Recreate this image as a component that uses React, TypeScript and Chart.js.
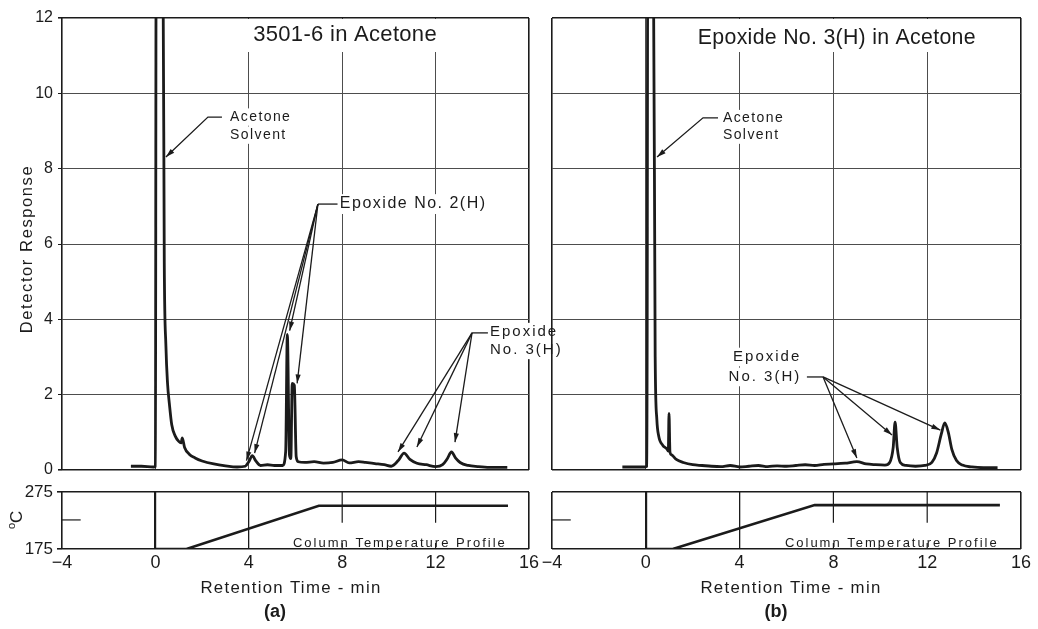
import React, { useEffect, useRef } from 'react';
import { Chart, registerables } from 'chart.js';

Chart.register(...registerables);

const FONT = "'Liberation Sans', Arial, Helvetica, sans-serif";
const INK = '#1b1b1b';
const GRID = '#4d4d4d';

type Pt = [number, number];

// ---------- data ----------
// Panel (a): 3501-6 in Acetone — retention time (min) vs detector response
const timeA = [-1.05, -0.6, -0.08, 0.0, 0.03, 0.33, 0.38, 0.45, 0.52, 0.6, 0.7, 0.85, 1.0, 1.1, 1.15, 1.25, 1.45, 1.7, 2.0, 2.5, 3.0, 3.5, 3.85, 4.0, 4.15, 4.3, 4.5, 4.8, 5.1, 5.45, 5.58, 5.65, 5.74, 5.8, 5.86, 5.95, 6.03, 6.12, 6.4, 6.8, 7.2, 7.6, 8.0, 8.3, 8.7, 9.0, 9.4, 9.8, 10.1, 10.4, 10.65, 10.9, 11.2, 11.6, 12.0, 12.3, 12.5, 12.68, 12.85, 13.05, 13.4, 13.8, 14.3, 15.07];
const respA = [0.1, 0.1, 0.08, 0.1, 12.8, 12.8, 5.5, 3.3, 2.3, 1.75, 1.2, 0.9, 0.76, 0.72, 0.85, 0.6, 0.42, 0.32, 0.24, 0.16, 0.11, 0.08, 0.1, 0.22, 0.38, 0.24, 0.12, 0.14, 0.12, 0.12, 0.5, 3.6, 0.4, 0.3, 2.3, 2.25, 0.35, 0.22, 0.2, 0.22, 0.18, 0.2, 0.27, 0.19, 0.22, 0.2, 0.17, 0.14, 0.1, 0.25, 0.45, 0.28, 0.18, 0.14, 0.09, 0.14, 0.3, 0.48, 0.32, 0.2, 0.12, 0.09, 0.07, 0.07];

// Panel (b): Epoxide No. 3(H) in Acetone
const timeB = [-1.0, -0.5, -0.05, 0.05, 0.08, 0.33, 0.4, 0.47, 0.55, 0.72, 0.9, 0.96, 0.99, 1.03, 1.1, 1.3, 1.6, 2.0, 2.4, 2.8, 3.2, 3.6, 4.0, 4.4, 4.8, 5.2, 5.6, 6.0, 6.4, 6.8, 7.2, 7.6, 8.0, 8.5, 9.0, 9.4, 9.8, 10.2, 10.4, 10.55, 10.63, 10.72, 10.85, 11.1, 11.5, 11.9, 12.2, 12.4, 12.6, 12.75, 12.9, 13.05, 13.25, 13.5, 13.9, 14.4, 15.0];
const respB = [0.08, 0.08, 0.08, 0.1, 12.8, 12.8, 3.0, 1.35, 0.9, 0.66, 0.56, 0.5, 1.5, 0.48, 0.4, 0.28, 0.2, 0.14, 0.12, 0.1, 0.09, 0.12, 0.08, 0.1, 0.12, 0.09, 0.11, 0.1, 0.12, 0.14, 0.12, 0.15, 0.16, 0.18, 0.22, 0.16, 0.14, 0.13, 0.2, 0.6, 1.27, 0.6, 0.2, 0.12, 0.1, 0.12, 0.2, 0.45, 0.95, 1.25, 1.0, 0.55, 0.25, 0.13, 0.08, 0.06, 0.06];

// Column temperature profiles (°C)
const tempTimeA = [0, 1.33, 7.0, 15.1];
const tempA = [175, 175, 251, 251];
const tempTimeB = [0, 1.15, 7.2, 15.1];
const tempB = [175, 175, 252, 252];

// Axes
const xTickValues = [-4, 0, 4, 8, 12, 16];
const yTickValues = [0, 2, 4, 6, 8, 10, 12];
const tempTickValues = [175, 275];

// Texts
const titleA = '3501-6 in Acetone';
const titleB = 'Epoxide No. 3(H) in Acetone';
const yTitle = 'Detector Response';
const xTitle = 'Retention Time - min';
const tempLabel = 'Column Temperature Profile';

// Annotation anchors (data units)
const solventTextA: Pt[] = [[3.2, 9.37], [3.2, 8.89]];
const solventLeaderA: Pt[] = [[2.85, 9.37], [2.25, 9.37], [0.45, 8.31]];
const epox2TextA: Pt = [7.9, 7.06];
const epox2LeaderA: Pt[] = [[7.8, 7.06], [6.96, 7.06]];
const epox2TargetsA: Pt[] = [[3.9, 0.25], [4.25, 0.45], [5.75, 3.7], [6.07, 2.3]];
const epox3TextA: Pt[] = [[14.33, 3.66], [14.33, 3.19]];
const epox3LeaderA: Pt[] = [[14.24, 3.64], [13.56, 3.64]];
const epox3TargetsA: Pt[] = [[10.39, 0.48], [11.2, 0.61], [12.83, 0.74]];

const solventTextB: Pt[] = [[3.29, 9.33], [3.29, 8.89]];
const solventLeaderB: Pt[] = [[3.08, 9.35], [2.44, 9.35], [0.48, 8.31]];
const epox3TextB: Pt[] = [[6.63, 3.0], [6.63, 2.47]];
const epox3LeaderB: Pt[] = [[6.87, 2.47], [7.56, 2.47]];
const epox3TargetsB: Pt[] = [[9.0, 0.32], [10.5, 0.93], [12.56, 1.06]];

// ---------- helpers ----------
const fmtX = (v: number) => (v < 0 ? '\u2212' + Math.abs(v) : String(v));

function P(chart: any, p: Pt): Pt {
  return [chart.scales.x.getPixelForValue(p[0]), chart.scales.y.getPixelForValue(p[1])];
}

function text(ctx: CanvasRenderingContext2D, s: string, x: number, y: number, size: number, o: any = {}) {
  const { align = 'left', spacing = 0, weight = 'normal', knock = false, rotate = 0 } = o;
  ctx.save();
  ctx.font = `${weight} ${size}px ${FONT}`;
  (ctx as any).letterSpacing = spacing + 'px';
  ctx.textAlign = align;
  ctx.textBaseline = 'middle';
  ctx.translate(x, y);
  if (rotate) ctx.rotate(rotate);
  if (knock) {
    const w = ctx.measureText(s).width;
    const x0 = align === 'left' ? 0 : align === 'right' ? -w : -w / 2;
    ctx.fillStyle = '#fff';
    ctx.fillRect(x0 - 3, -size * 0.62, w + 6, size * 1.24);
  }
  ctx.fillStyle = INK;
  ctx.fillText(s, 0, 0);
  ctx.restore();
}

function poly(ctx: CanvasRenderingContext2D, pts: Pt[], head: boolean) {
  ctx.save();
  ctx.strokeStyle = INK;
  ctx.fillStyle = INK;
  ctx.lineWidth = 1.3;
  ctx.beginPath();
  ctx.moveTo(pts[0][0], pts[0][1]);
  for (let i = 1; i < pts.length; i++) ctx.lineTo(pts[i][0], pts[i][1]);
  ctx.stroke();
  if (head) {
    const [x1, y1] = pts[pts.length - 2];
    const [x2, y2] = pts[pts.length - 1];
    const a = Math.atan2(y2 - y1, x2 - x1);
    const L = 9, W = 2.6;
    ctx.beginPath();
    ctx.moveTo(x2, y2);
    ctx.lineTo(x2 - L * Math.cos(a) + W * Math.sin(a), y2 - L * Math.sin(a) - W * Math.cos(a));
    ctx.lineTo(x2 - L * Math.cos(a) - W * Math.sin(a), y2 - L * Math.sin(a) + W * Math.cos(a));
    ctx.closePath();
    ctx.fill();
  }
  ctx.restore();
}

function fan(chart: any, leader: Pt[], targets: Pt[]) {
  const ctx = chart.ctx;
  const lp = leader.map((p) => P(chart, p));
  poly(ctx, lp, false);
  const o = lp[lp.length - 1];
  targets.forEach((t) => poly(ctx, [o, P(chart, t)], true));
}

function whiteBand(chart: any, fromX: number) {
  const { ctx, chartArea: a, scales } = chart;
  const x0 = scales.x.getPixelForValue(fromX);
  ctx.save();
  ctx.fillStyle = '#fff';
  ctx.fillRect(x0, a.top + 1, a.right - 1.5 - x0, 33);
  ctx.restore();
}

const edgeGrid = (edges: number[]) => ({
  color: (c: any) => (c.tick && edges.includes(c.tick.value) ? INK : GRID),
  lineWidth: (c: any) => (c.tick && edges.includes(c.tick.value) ? 1.6 : 1),
});

function mainChart(canvas: HTMLCanvasElement, time: number[], resp: number[], showY: boolean, padL: number, padR: number, deco: any) {
  return new Chart(canvas as any, {
    type: 'line',
    data: {
      datasets: [{
        data: time.map((t, i) => ({ x: t, y: resp[i] })),
        borderColor: INK,
        borderWidth: 2.8,
        pointRadius: 0,
        cubicInterpolationMode: 'monotone',
        fill: false,
      }],
    },
    options: {
      responsive: false,
      animation: false,
      events: [],
      layout: { padding: { left: padL, right: padR, top: 18, bottom: 10 } },
      plugins: { legend: { display: false }, tooltip: { enabled: false } },
      scales: {
        x: {
          type: 'linear', min: -4, max: 16,
          afterBuildTicks: (s: any) => { s.ticks = xTickValues.map((v) => ({ value: v })); },
          ticks: { display: false },
          grid: { ...edgeGrid([-4, 16]), drawTicks: false },
          border: { display: false },
          afterFit: (s: any) => { s.height = 0; s.paddingLeft = 0; s.paddingRight = 0; },
        },
        y: {
          type: 'linear', min: 0, max: 12,
          afterBuildTicks: (s: any) => { s.ticks = yTickValues.map((v) => ({ value: v })); },
          ticks: { display: showY, font: { family: FONT, size: 16 }, color: INK, padding: 5 },
          grid: { ...edgeGrid([0, 12]), drawTicks: showY, tickLength: 4, tickColor: INK },
          border: { display: false },
          afterFit: (s: any) => { s.width = showY ? 62 : 0; s.paddingTop = 0; s.paddingBottom = 0; },
        },
      },
    } as any,
    plugins: [{ id: 'deco', beforeDatasetsDraw: deco.before, afterDatasetsDraw: deco.after }],
  });
}

function tempChart(canvas: HTMLCanvasElement, time: number[], temp: number[], showY: boolean, padL: number, padR: number, deco: any) {
  return new Chart(canvas as any, {
    type: 'line',
    data: {
      datasets: [{
        data: time.map((t, i) => ({ x: t, y: temp[i] })),
        borderColor: INK,
        borderWidth: 2.6,
        pointRadius: 0,
        tension: 0,
        fill: false,
      }],
    },
    options: {
      responsive: false,
      animation: false,
      events: [],
      layout: { padding: { left: padL, right: padR, top: 12, bottom: 0 } },
      plugins: { legend: { display: false }, tooltip: { enabled: false } },
      scales: {
        x: {
          type: 'linear', min: -4, max: 16,
          afterBuildTicks: (s: any) => { s.ticks = xTickValues.map((v) => ({ value: v })); },
          ticks: { display: true, font: { family: FONT, size: 18 }, color: INK, padding: 3, maxRotation: 0, autoSkip: false, callback: (v: any) => fmtX(Number(v)) },
          grid: {
            color: (c: any) => (c.tick && (c.tick.value === 8 || c.tick.value === 12) ? 'rgba(0,0,0,0)' : INK),
            lineWidth: (c: any) => (c.tick && c.tick.value === 0 ? 2.2 : c.tick && c.tick.value === 4 ? 1.3 : 1.6),
            drawTicks: false,
          },
          border: { display: false },
          afterFit: (s: any) => { s.height = 80; s.paddingLeft = 0; s.paddingRight = 0; },
        },
        y: {
          type: 'linear', min: 175, max: 275,
          afterBuildTicks: (s: any) => { s.ticks = tempTickValues.map((v) => ({ value: v })); },
          ticks: { display: showY, font: { family: FONT, size: 17 }, color: INK, padding: 4 },
          grid: { color: INK, lineWidth: 1.6, drawTicks: showY, tickLength: 5, tickColor: INK },
          border: { display: false },
          afterFit: (s: any) => { s.width = showY ? 62 : 0; s.paddingTop = 0; s.paddingBottom = 0; },
        },
      },
    } as any,
    plugins: [{ id: 'deco', beforeDatasetsDraw: deco.before, afterDatasetsDraw: deco.after }],
  });
}

function tempFrame(chart: any) {
  const ctx = chart.ctx;
  ctx.save();
  ctx.strokeStyle = INK;
  ctx.lineWidth = 1.2;
  [8, 12].forEach((v) => {
    const [x, yTop] = P(chart, [v, 275]);
    const [, yMid] = P(chart, [v, 221]);
    const [, yBot] = P(chart, [v, 175]);
    ctx.beginPath();
    ctx.moveTo(x, yTop); ctx.lineTo(x, yMid);
    ctx.moveTo(x, yBot); ctx.lineTo(x, yBot - 6);
    ctx.stroke();
  });
  const a = P(chart, [-4, 226]);
  const b = P(chart, [-3.2, 226]);
  ctx.beginPath();
  ctx.moveTo(a[0], a[1]); ctx.lineTo(b[0], b[1]);
  ctx.stroke();
  ctx.restore();
}

const decoMainA = {
  before: (chart: any) => whiteBand(chart, 1.2),
  after: (chart: any) => {
    const ctx = chart.ctx;
    const t = P(chart, [4.19, 11.55]);
    text(ctx, titleA, t[0], t[1], 22, { spacing: 0.3 });
    text(ctx, yTitle, 27, 249, 16.5, { spacing: 1.6, rotate: -Math.PI / 2, align: 'center' });
    const s1 = P(chart, solventTextA[0]);
    const s2 = P(chart, solventTextA[1]);
    text(ctx, 'Acetone', s1[0], s1[1], 14, { spacing: 1.4, knock: true });
    text(ctx, 'Solvent', s2[0], s2[1], 14, { spacing: 1.4, knock: true });
    const e2 = P(chart, epox2TextA);
    text(ctx, 'Epoxide No. 2(H)', e2[0], e2[1], 16, { spacing: 1.5, knock: true });
    const e3a = P(chart, epox3TextA[0]);
    const e3b = P(chart, epox3TextA[1]);
    text(ctx, 'Epoxide', e3a[0], e3a[1], 15, { spacing: 2, knock: true });
    text(ctx, 'No. 3(H)', e3b[0], e3b[1], 15, { spacing: 2, knock: true });
    poly(ctx, solventLeaderA.map((p) => P(chart, p)), true);
    fan(chart, epox2LeaderA, epox2TargetsA);
    fan(chart, epox3LeaderA, epox3TargetsA);
  },
};

const decoMainB = {
  before: (chart: any) => whiteBand(chart, 1.2),
  after: (chart: any) => {
    const ctx = chart.ctx;
    const t = P(chart, [2.22, 11.46]);
    text(ctx, titleB, t[0], t[1], 21.3, { spacing: 0.3 });
    const s1 = P(chart, solventTextB[0]);
    const s2 = P(chart, solventTextB[1]);
    text(ctx, 'Acetone', s1[0], s1[1], 14, { spacing: 1.4, knock: true });
    text(ctx, 'Solvent', s2[0], s2[1], 14, { spacing: 1.4, knock: true });
    const e1 = P(chart, epox3TextB[0]);
    const e2 = P(chart, epox3TextB[1]);
    text(ctx, 'Epoxide', e1[0], e1[1], 15, { spacing: 2, knock: true, align: 'right' });
    text(ctx, 'No. 3(H)', e2[0], e2[1], 15, { spacing: 2, knock: true, align: 'right' });
    poly(ctx, solventLeaderB.map((p) => P(chart, p)), true);
    fan(chart, epox3LeaderB, epox3TargetsB);
  },
};

const makeTempDeco = (label: string, titleX: number, tagX: number, showUnit: boolean) => ({
  before: (chart: any) => tempFrame(chart),
  after: (chart: any) => {
    const ctx = chart.ctx;
    const c = P(chart, [15.05, 184]);
    text(ctx, tempLabel, c[0], c[1], 13, { spacing: 2, align: 'right' });
    text(ctx, xTitle, titleX, 108, 16.8, { spacing: 1.3, align: 'center' });
    text(ctx, label, tagX, 132, 18, { weight: 'bold', align: 'center' });
    if (showUnit) {
      ctx.save();
      ctx.translate(17, 40);
      ctx.rotate(-Math.PI / 2);
      ctx.fillStyle = INK;
      ctx.textBaseline = 'middle';
      ctx.font = `11px ${FONT}`;
      ctx.textAlign = 'right';
      ctx.fillText('o', -3, -5);
      ctx.font = `17px ${FONT}`;
      ctx.textAlign = 'left';
      ctx.fillText('C', -3, 0);
      ctx.restore();
    }
  },
});

export default function App() {
  const aMain = useRef<HTMLCanvasElement>(null);
  const aTemp = useRef<HTMLCanvasElement>(null);
  const bMain = useRef<HTMLCanvasElement>(null);
  const bTemp = useRef<HTMLCanvasElement>(null);

  useEffect(() => {
    const charts = [
      mainChart(aMain.current!, timeA, respA, true, 0, 31, decoMainA),
      mainChart(bMain.current!, timeB, respB, false, 12, 17, decoMainB),
      tempChart(aTemp.current!, tempTimeA, tempA, true, 0, 31, makeTempDeco('(a)', 291, 275, true)),
      tempChart(bTemp.current!, tempTimeB, tempB, false, 12, 17, makeTempDeco('(b)', 251, 236, false)),
    ];
    return () => charts.forEach((c) => c.destroy());
  }, []);

  const cs = (l: number, t: number, w: number, h: number): React.CSSProperties => ({ position: 'absolute', left: l, top: t, width: w, height: h });

  return (
    <div style={{ position: 'fixed', left: 0, top: 0, width: 1038, height: 629, background: '#fff', overflow: 'hidden' }}>
      <canvas ref={aMain} width={560} height={480} style={cs(0, 0, 560, 480)} />
      <canvas ref={aTemp} width={560} height={149} style={cs(0, 480, 560, 149)} />
      <canvas ref={bMain} width={498} height={480} style={cs(540, 0, 498, 480)} />
      <canvas ref={bTemp} width={498} height={149} style={cs(540, 480, 498, 149)} />
    </div>
  );
}
